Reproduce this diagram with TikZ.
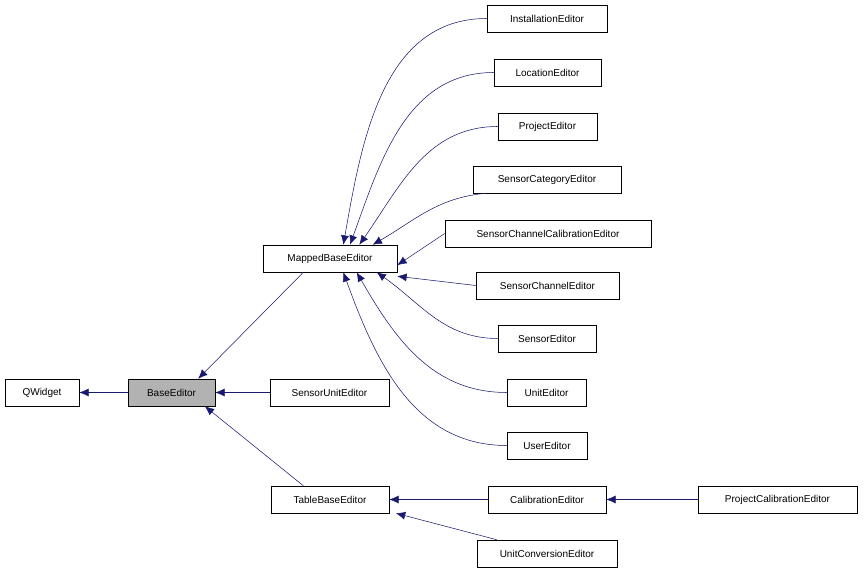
\documentclass[tikz,border=0pt]{standalone}
\usepackage{fontspec}
\setmainfont{Liberation Sans}
\usetikzlibrary{arrows.meta}
\definecolor{edgeblue}{HTML}{191970}
\tikzset{
  cls/.style={draw,thin,fill=white,minimum height=20.25pt,inner xsep=3pt,font=\fontsize{7.5}{9}\selectfont},
  inh/.style={draw=edgeblue,thin,{Latex[length=7pt,width=6pt]}-}
}
\begin{document}
\begin{tikzpicture}[x=0.75pt,y=-0.75pt]
\useasboundingbox (0,0) rectangle (864,573);
% classes
\node[cls,minimum width=55.5pt] (qw) at (42,392.5) {QWidget};
\node[cls,minimum width=65.25pt,fill=gray!60] (be) at (171.5,392.5) {BaseEditor};
\node[cls,minimum width=89.25pt] (sue) at (329.5,392.5) {SensorUnitEditor};
\node[cls,minimum width=100.5pt] (mbe) at (330,258.5) {MappedBaseEditor};
\node[cls,minimum width=88.5pt] (tbe) at (330,499.5) {TableBaseEditor};
\node[cls,minimum width=90pt] (inst) at (547,18.5) {InstallationEditor};
\node[cls,minimum width=80.25pt] (loc) at (547.5,72.5) {LocationEditor};
\node[cls,minimum width=74.25pt] (proj) at (547.5,126.5) {ProjectEditor};
\node[cls,minimum width=111pt] (scat) at (547,179.5) {SensorCategoryEditor};
\node[cls,minimum width=154.5pt] (sccal) at (548,233.5) {SensorChannelCalibrationEditor};
\node[cls,minimum width=107.25pt] (sch) at (547.5,285.5) {SensorChannelEditor};
\node[cls,minimum width=73.5pt] (sens) at (547,338.5) {SensorEditor};
\node[cls,minimum width=59.25pt] (unit) at (546.5,392.5) {UnitEditor};
\node[cls,minimum width=60pt] (user) at (547,445.5) {UserEditor};
\node[cls,minimum width=88.5pt] (cal) at (547,499.5) {CalibrationEditor};
\node[cls,minimum width=105pt] (uce) at (547,553.5) {UnitConversionEditor};
\node[cls,minimum width=119.25pt] (pce) at (777.5,499.5) {ProjectCalibrationEditor};
% inheritance
\draw[inh] (qw.east) -- (be.west);
\draw[inh] (be.east) -- (sue.west);
\draw[inh] ([xshift=20]be.north) -- ([xshift=-20]mbe.south);
\draw[inh] ([xshift=25]be.south) -- ([xshift=-20]tbe.north);
\draw[inh] (tbe.east) -- (cal.west);
\draw[inh] ([xshift=5]tbe.south east) -- ([xshift=15]uce.north west);
\draw[inh] (cal.east) -- (pce.west);
\draw[inh] ([xshift=10]mbe.north) to[out=80,in=180] (inst.west);
\draw[inh] ([xshift=15]mbe.north) to[out=70,in=180] (loc.west);
\draw[inh] ([xshift=22]mbe.north) to[out=55,in=180] (proj.west);
\draw[inh] ([xshift=32]mbe.north) to[out=30,in=185] ([xshift=10]scat.south west);
\draw[inh] ([yshift=-5]mbe.east) -- (sccal.west);
\draw[inh] ([yshift=-3]mbe.south east) -- (sch.west);
\draw[inh] ([xshift=35]mbe.south) to[out=-35,in=180] (sens.west);
\draw[inh] ([xshift=20]mbe.south) to[out=-60,in=180] (unit.west);
\draw[inh] ([xshift=10]mbe.south) to[out=-70,in=180] (user.west);
\end{tikzpicture}
\end{document}
